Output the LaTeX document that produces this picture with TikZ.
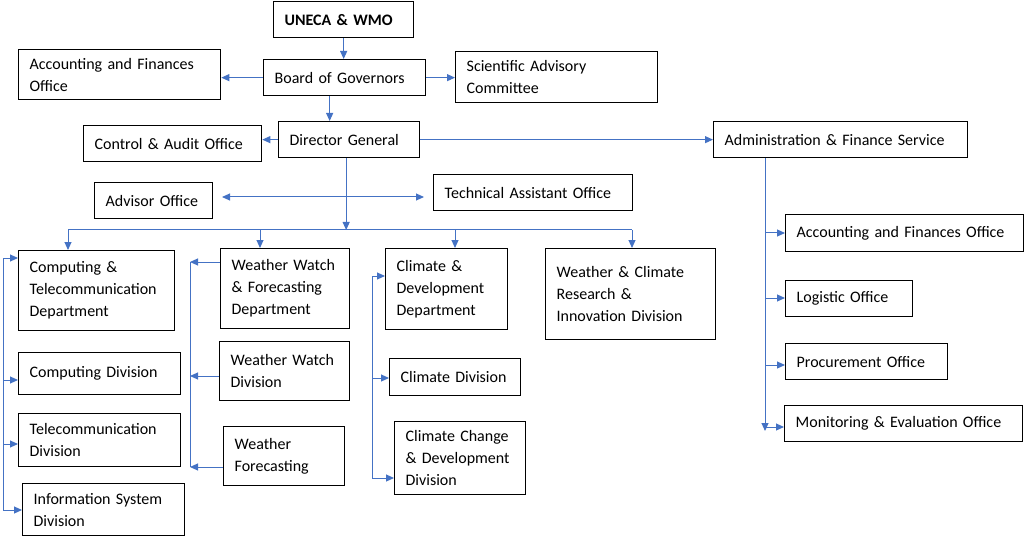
\documentclass[tikz,border=0pt]{standalone}
\usepackage{fontspec}
\setmainfont{Carlito}
\usetikzlibrary{arrows.meta}
\definecolor{lineblue}{RGB}{68,114,196}
\tikzset{
  box/.style={draw,line width=1.3pt,anchor=north west,align=left,inner xsep=11pt,inner ysep=0pt,font=\fontsize{16}{22}\selectfont},
  link/.style={draw=lineblue,line width=1pt,-{Triangle[length=8pt,width=7pt]}},
  twoway/.style={draw=lineblue,line width=1pt,{Triangle[length=8pt,width=7pt]}-{Triangle[length=8pt,width=7pt]}},
  plain/.style={draw=lineblue,line width=1pt},
}
\begin{document}
\begin{tikzpicture}[x=1pt,y=-1pt]
\useasboundingbox (0,0) rectangle (1024,537);

% top of the chart
\node[box,text width=118pt,minimum height=36pt,font=\bfseries\fontsize{16}{22}\selectfont] (un) at (273,1) {UNECA \& WMO};
\node[box,text width=140pt,minimum height=36pt] (bg) at (263,59) {Board of Governors};
\node[box,text width=180pt,minimum height=50pt] (acc1) at (18,49) {Accounting and Finances\\Office};
\node[box,text width=180pt,minimum height=51pt] (sac) at (455,51) {Scientific Advisory\\Committee};
\node[box,text width=119pt,minimum height=36pt] (dg) at (278,121) {Director General};
\node[box,text width=156pt,minimum height=36pt] (cao) at (83,125) {Control \& Audit Office};
\node[box,text width=232pt,minimum height=36pt] (afs) at (713,121) {Administration \& Finance Service};
\node[box,text width=96pt,minimum height=36pt] (ao) at (94,182) {Advisor Office};
\node[box,text width=177pt,minimum height=36pt] (tao) at (433,174) {Technical Assistant Office};

% departments
\node[box,text width=134pt,minimum height=80pt] (ct) at (18,250) {Computing \&\\Telecommunication\\Department};
\node[box,text width=107pt,minimum height=80pt] (wwf) at (220,248) {Weather Watch\\\& Forecasting\\Department};
\node[box,text width=100pt,minimum height=81pt] (cdd) at (385,248) {Climate \&\\Development\\Department};
\node[box,text width=148pt,minimum height=91pt] (wcr) at (545,248) {Weather \& Climate\\Research \&\\Innovation Division};

% divisions
\node[box,text width=140pt,minimum height=42pt] (cd) at (18,352) {Computing Division};
\node[box,text width=140pt,minimum height=53pt] (td) at (18,413) {Telecommunication\\Division};
\node[box,text width=140pt,minimum height=52pt] (isd) at (22,483) {Information System\\Division};
\node[box,text width=108pt,minimum height=59pt] (wwd) at (219,341) {Weather Watch\\Division};
\node[box,text width=99pt,minimum height=59pt] (wfc) at (223,426) {Weather\\Forecasting};
\node[box,text width=109pt,minimum height=37pt] (cld) at (389,358) {Climate Division};
\node[box,text width=109pt,minimum height=73pt] (ccd) at (394,421) {Climate Change\\\& Development\\Division};

% offices of the service
\node[box,text width=216pt,minimum height=37pt] (acc2) at (785,214) {Accounting and Finances Office};
\node[box,text width=105pt,minimum height=36pt] (lo) at (785,280) {Logistic Office};
\node[box,text width=140pt,minimum height=36pt] (po) at (785,343) {Procurement Office};
\node[box,text width=216pt,minimum height=36pt] (meo) at (784,405) {Monitoring \& Evaluation Office};

\coordinate (busL) at (68,230);
\coordinate (busR) at (632,230);
\coordinate (b2) at (260,230);
\coordinate (b3) at (455,230);
\coordinate (adv) at (222,197);
\coordinate (tech) at (424,197);
\coordinate (c1) at (3,258);
\coordinate (c2) at (3,380);
\coordinate (c3) at (3,444);
\coordinate (c4) at (3,510);
\coordinate (w1) at (190,262);
\coordinate (w2) at (190,376);
\coordinate (w3) at (190,467);
\coordinate (k1) at (372,276);
\coordinate (k2) at (372,378);
\coordinate (k3) at (372,478);
\coordinate (a1) at (765,233);
\coordinate (a2) at (765,298);
\coordinate (a3) at (765,365);
\coordinate (a4) at (765,427);
\coordinate (aend) at (765,431);

\draw[link] (un.south) -- (un.south |- bg.north);
\draw[link] (bg.west) -- (bg.west -| acc1.east);
\draw[link] (bg.east) -- (bg.east -| sac.west);
\draw[link] ([xshift=-15pt]bg.south) -- ([xshift=-15pt]bg.south |- dg.north);
\draw[link] (dg.west) -- (dg.west -| cao.east);
\draw[link] (dg.east) -- (dg.east -| afs.west);
\draw[link] ([xshift=-3pt]dg.south) -- ([xshift=-3pt]dg.south |- busL);
\draw[twoway] (adv) -- (tech);

\draw[plain] (busL) -- (busR);
\draw[link] (busL) -- (busL |- ct.north);
\draw[link] (b2) -- (b2 |- wwf.north);
\draw[link] (b3) -- (b3 |- cdd.north);
\draw[link] (busR) -- (busR |- wcr.north);

\draw[plain] (c1) -- (c4);
\draw[link] (c1) -- (c1 -| ct.west);
\draw[link] (c2) -- (c2 -| cd.west);
\draw[link] (c3) -- (c3 -| td.west);
\draw[link] (c4) -- (c4 -| isd.west);

\draw[plain] (w1) -- (w3);
\draw[link] (w1 -| wwf.west) -- (w1);
\draw[link] (w2 -| wwd.west) -- (w2);
\draw[link] (w3 -| wfc.west) -- (w3);

\draw[plain] (k1) -- (k3);
\draw[link] (k1) -- (k1 -| cdd.west);
\draw[link] (k2) -- (k2 -| cld.west);
\draw[link] (k3) -- (k3 -| ccd.west);

\draw[link] (afs.south -| aend) -- (aend);
\draw[link] (a1) -- (a1 -| acc2.west);
\draw[link] (a2) -- (a2 -| lo.west);
\draw[link] (a3) -- (a3 -| po.west);
\draw[link] (a4) -- (a4 -| meo.west);
\end{tikzpicture}
\end{document}
